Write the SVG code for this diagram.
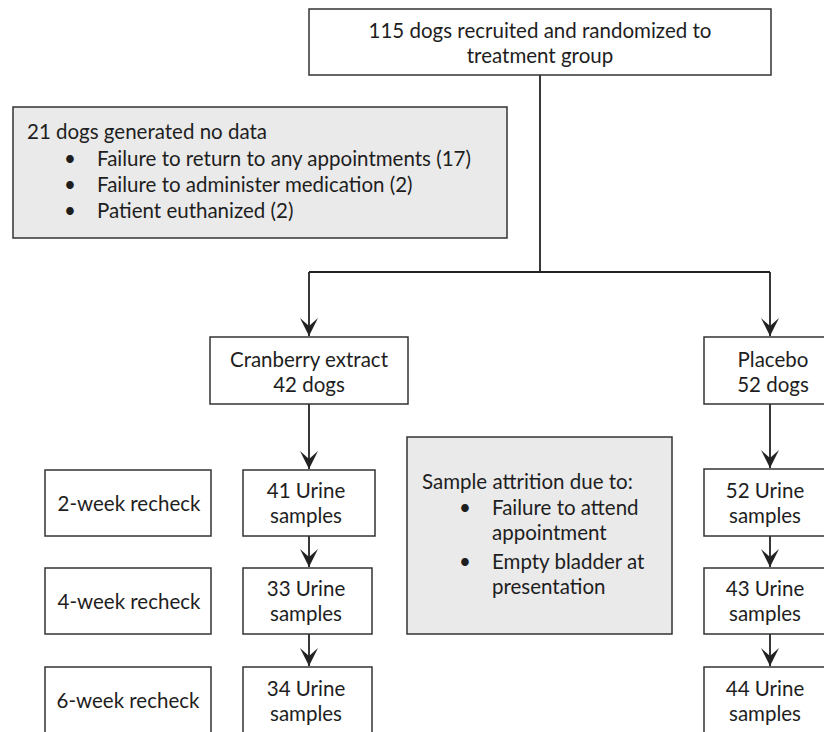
<svg xmlns="http://www.w3.org/2000/svg" width="824" height="732" viewBox="0 0 824 732">
<defs>
<style>
.box{fill:#ffffff;stroke:#333333;stroke-width:1.5}
.gray{fill:#eaeaea;stroke:#333333;stroke-width:1.5}
.t{font-family:Lato,"Open Sans",sans-serif;font-size:20.5px;fill:#1e1e1e}
.c{text-anchor:middle}
.conn{fill:none;stroke:#222222;stroke-width:1.8}
</style>
<marker id="arr" viewBox="-19 -10 20 20" refX="0" refY="0" markerWidth="20" markerHeight="20" markerUnits="userSpaceOnUse" orient="auto">
<path d="M0,0 L-18,-9 L-10,0 L-18,9 Z" fill="#222222"/>
</marker>
</defs>
<rect width="824" height="732" fill="#ffffff"/>
<g id="connectors">
<path class="conn" d="M540 75 V272"/>
<path class="conn" d="M309 272 H770"/>
<path class="conn" d="M309 272 V336" marker-end="url(#arr)"/>
<path class="conn" d="M770 272 V336" marker-end="url(#arr)"/>
<path class="conn" d="M309 404 V469" marker-end="url(#arr)"/>
<path class="conn" d="M309 536 V567" marker-end="url(#arr)"/>
<path class="conn" d="M309 634 V666" marker-end="url(#arr)"/>
<path class="conn" d="M770 404 V468" marker-end="url(#arr)"/>
<path class="conn" d="M770 536 V567" marker-end="url(#arr)"/>
<path class="conn" d="M770 634 V666" marker-end="url(#arr)"/>
</g>
<g id="recruited">
<rect class="box" x="309" y="9" width="462" height="66"/>
<text class="t c" x="540" y="38">115 dogs recruited and randomized to</text>
<text class="t c" x="540" y="63">treatment group</text>
</g>
<g id="nodata">
<rect class="gray" x="13" y="107" width="494" height="131"/>
<text class="t" x="27" y="139">21 dogs generated no data</text>
<text class="t" x="64" y="166">•</text>
<text class="t" x="97" y="166">Failure to return to any appointments (17)</text>
<text class="t" x="64" y="192">•</text>
<text class="t" x="97" y="192">Failure to administer medication (2)</text>
<text class="t" x="64" y="218">•</text>
<text class="t" x="97" y="218">Patient euthanized (2)</text>
</g>
<g id="cranberry">
<rect class="box" x="210" y="337" width="198" height="67"/>
<text class="t c" x="309" y="367">Cranberry extract</text>
<text class="t c" x="309" y="392">42 dogs</text>
</g>
<g id="placebo">
<rect class="box" x="704" y="337" width="136" height="67"/>
<text class="t c" x="773" y="367">Placebo</text>
<text class="t c" x="773" y="392">52 dogs</text>
</g>
<g id="week2">
<rect class="box" x="45" y="470" width="166" height="66"/>
<text class="t c" x="129" y="511">2-week recheck</text>
</g>
<g id="week4">
<rect class="box" x="45" y="568" width="166" height="66"/>
<text class="t c" x="129" y="609">4-week recheck</text>
</g>
<g id="week6">
<rect class="box" x="45" y="667" width="166" height="80"/>
<text class="t c" x="128" y="708">6-week recheck</text>
</g>
<g id="cran2">
<rect class="box" x="243" y="470" width="132" height="66"/>
<text class="t c" x="306" y="498">41 Urine</text>
<text class="t c" x="306" y="523">samples</text>
</g>
<g id="cran4">
<rect class="box" x="243" y="568" width="129" height="66"/>
<text class="t c" x="306" y="596">33 Urine</text>
<text class="t c" x="306" y="621">samples</text>
</g>
<g id="cran6">
<rect class="box" x="243" y="667" width="129" height="80"/>
<text class="t c" x="306" y="696">34 Urine</text>
<text class="t c" x="306" y="721">samples</text>
</g>
<g id="attrition">
<rect class="gray" x="407" y="437" width="265" height="197"/>
<text class="t" x="422" y="489">Sample attrition due to:</text>
<text class="t" x="459" y="515">•</text>
<text class="t" x="492" y="515">Failure to attend</text>
<text class="t" x="492" y="540">appointment</text>
<text class="t" x="459" y="569">•</text>
<text class="t" x="492" y="569">Empty bladder at</text>
<text class="t" x="492" y="594">presentation</text>
</g>
<g id="plac2">
<rect class="box" x="704" y="469" width="136" height="67"/>
<text class="t c" x="765" y="498">52 Urine</text>
<text class="t c" x="765" y="523">samples</text>
</g>
<g id="plac4">
<rect class="box" x="704" y="568" width="136" height="66"/>
<text class="t c" x="765" y="596">43 Urine</text>
<text class="t c" x="765" y="621">samples</text>
</g>
<g id="plac6">
<rect class="box" x="704" y="667" width="136" height="80"/>
<text class="t c" x="765" y="696">44 Urine</text>
<text class="t c" x="765" y="721">samples</text>
</g>
</svg>
